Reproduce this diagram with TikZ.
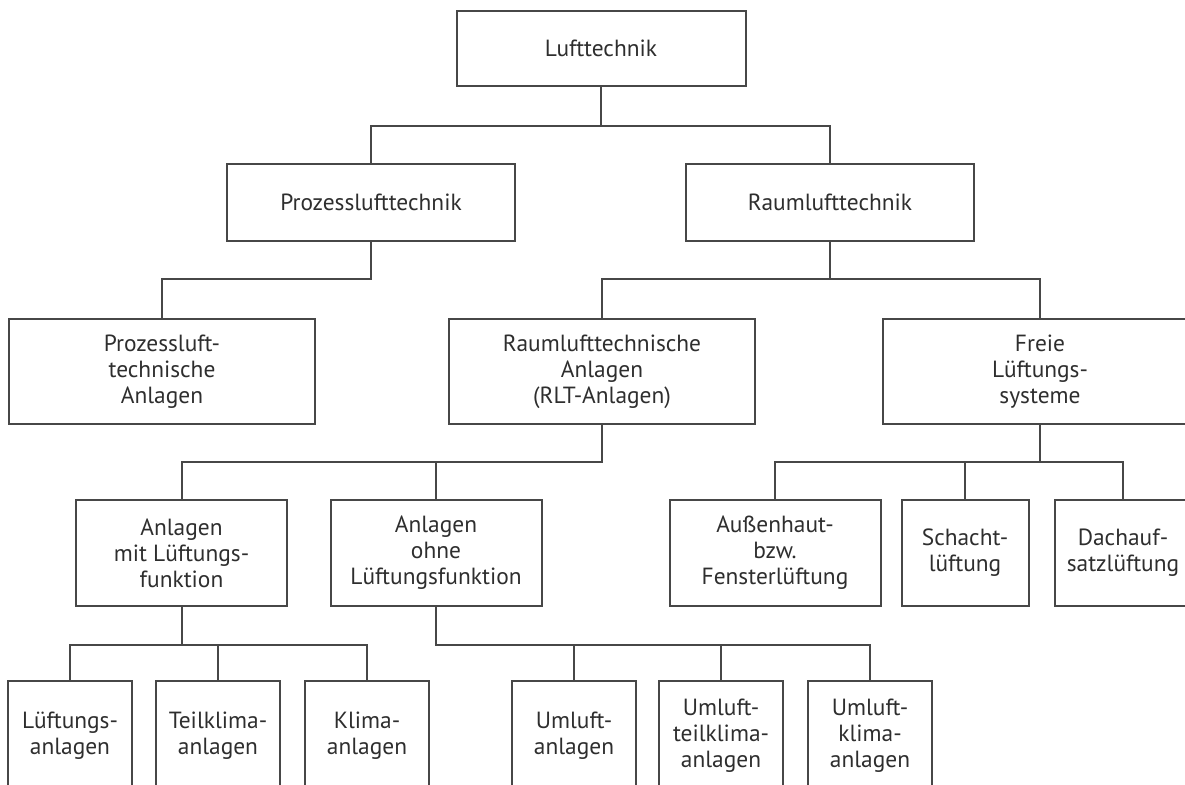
\documentclass[tikz,border=0pt]{standalone}
\usepackage{fontspec}
\setmainfont{PT Sans}
\definecolor{linegray}{HTML}{474747}
\definecolor{textgray}{HTML}{2E2E2E}
\begin{document}
\begin{tikzpicture}[x=0.5pt,y=-0.5pt,
  box/.style={draw=linegray, line width=1pt, align=center, inner sep=0pt,
    text=textgray, font=\fontsize{11.7}{13}\selectfont},
  topbox/.style={box, minimum width=144.5pt, minimum height=37.5pt},
  midbox/.style={box, minimum width=144pt, minimum height=38.5pt},
  bigbox/.style={box, minimum width=153pt, minimum height=52.5pt},
  medbox/.style={box, minimum width=105.5pt, minimum height=53pt},
  smallbox/.style={box, minimum width=63.5pt, minimum height=53pt},
  leafbox/.style={box, minimum width=62pt, minimum height=55pt},
  conn/.style={draw=linegray, line width=1pt}]
\useasboundingbox (0,0) rectangle (1185,785);
\clip (0,0) rectangle (1185,785);
% levels of the horizontal bars
\coordinate (bar1) at (0,126);
\coordinate (bar2) at (0,279);
\coordinate (bar3) at (0,462);
\coordinate (bar4) at (0,645);

\node[topbox] (luft) at (601,48.5) {Lufttechnik};

\node[midbox] (prozess) at (371,202.5) {Prozesslufttechnik};
\node[midbox] (raum) at (830,202.5) {Raumlufttechnik};

\node[bigbox] (ptech) at (162,371.5) {Prozessluft-\\technische\\Anlagen};
\node[bigbox] (rlt) at (602,371.5) {Raumlufttechnische\\Anlagen\\(RLT-Anlagen)};
\node[bigbox, minimum width=157pt] (freie) at (1040,371.5) {Freie\\Lüftungs-\\systeme};

\node[medbox] (mit) at (181.5,553) {Anlagen\\mit Lüftungs-\\funktion};
\node[medbox] (ohne) at (436,553) {Anlagen\\ohne\\Lüftungsfunktion};
\node[medbox] (aussen) at (775,553) {Außenhaut-\\bzw.\\Fensterlüftung};
\node[smallbox] (schacht) at (965,553) {Schacht-\\lüftung};
\node[smallbox, minimum width=68pt] (dach) at (1123,553) {Dachauf-\\satzlüftung};

\node[leafbox] (lueft) at (70,736) {Lüftungs-\\anlagen};
\node[leafbox] (teil) at (218,736) {Teilklima-\\anlagen};
\node[leafbox] (klima) at (367,736) {Klima-\\anlagen};
\node[leafbox] (umluft) at (574,736) {Umluft-\\anlagen};
\node[leafbox] (uteil) at (721,736) {Umluft-\\teilklima-\\anlagen};
\node[leafbox] (uklima) at (870,736) {Umluft-\\klima-\\anlagen};

% connectors
\draw[conn] (luft.south) -- (luft.south |- bar1);
\draw[conn] (prozess.north) |- (raum.north |- bar1) -- (raum.north);

\draw[conn] (prozess.south) |- (ptech.north |- bar2) -- (ptech.north);
\draw[conn] (raum.south) -- (raum.south |- bar2);
\draw[conn] (rlt.north) |- (freie.north |- bar2) -- (freie.north);

\draw[conn] (rlt.south) |- (mit.north |- bar3) -- (mit.north);
\draw[conn] (ohne.north) -- (ohne.north |- bar3);
\draw[conn] (freie.south) -- (freie.south |- bar3);
\draw[conn] (aussen.north) |- (dach.north |- bar3) -- (dach.north);
\draw[conn] (schacht.north) -- (schacht.north |- bar3);

\draw[conn] (mit.south) -- (mit.south |- bar4);
\draw[conn] (lueft.north) |- (klima.north |- bar4) -- (klima.north);
\draw[conn] (teil.north) -- (teil.north |- bar4);
\draw[conn] (ohne.south) |- (uklima.north |- bar4) -- (uklima.north);
\draw[conn] (umluft.north) -- (umluft.north |- bar4);
\draw[conn] (uteil.north) -- (uteil.north |- bar4);
\end{tikzpicture}
\end{document}
